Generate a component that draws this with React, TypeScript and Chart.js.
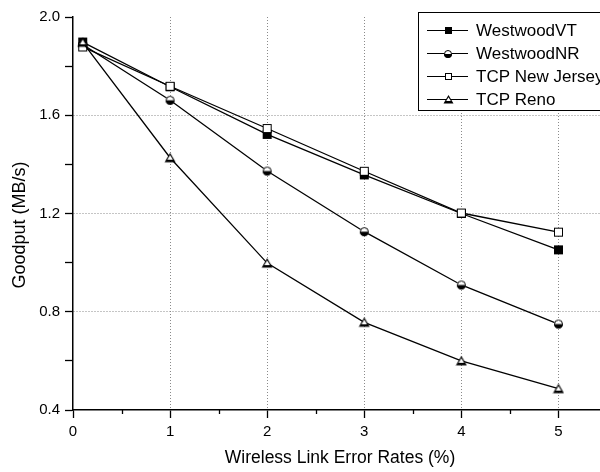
import { useEffect, useRef } from 'react';
import { Chart, registerables } from 'chart.js';

Chart.register(...registerables);

// ---- data ----
const errorRates = [0.1, 1, 2, 3, 4, 5];
const westwoodVT = [1.898, 1.716, 1.522, 1.357, 1.2, 1.052];
const westwoodNR = [1.888, 1.661, 1.373, 1.126, 0.909, 0.75];
const tcpNewJersey = [1.878, 1.718, 1.546, 1.372, 1.202, 1.124];
const tcpReno = [1.897, 1.427, 0.998, 0.757, 0.6, 0.487];
const seriesNames = ['WestwoodVT', 'WestwoodNR', 'TCP New Jersey', 'TCP Reno'];
const xTickLabels = ['0', '1', '2', '3', '4', '5'];
const yTickLabels = ['0.4', '0.8', '1.2', '1.6', '2.0'];
const xTitle = 'Wireless Link Error Rates (%)';
const yTitle = 'Goodput (MB/s)';

const FONT = '"Liberation Sans", Arial, sans-serif';
const GRID = '#8a8a8a';

function makeMarker(kind: string, s: number): HTMLCanvasElement {
  const c = document.createElement('canvas');
  const w = s + 2;
  c.width = w;
  c.height = w;
  const g = c.getContext('2d')!;
  g.lineWidth = 1;
  g.strokeStyle = '#000';
  const h = w / 2;
  if (kind === 'filledSquare') {
    g.fillStyle = '#000';
    g.fillRect(1, 1, s, s);
  } else if (kind === 'openSquare') {
    g.fillStyle = '#fff';
    g.fillRect(1, 1, s, s);
    g.strokeRect(1.5, 1.5, s - 1, s - 1);
  } else if (kind === 'halfCircle') {
    const r = s / 2;
    g.fillStyle = '#fff';
    g.beginPath();
    g.arc(h, h, r, 0, 2 * Math.PI);
    g.fill();
    g.fillStyle = '#000';
    g.beginPath();
    g.arc(h, h, r, 0, Math.PI);
    g.closePath();
    g.fill();
    g.beginPath();
    g.arc(h, h, r - 0.5, 0, 2 * Math.PI);
    g.stroke();
  } else {
    // triangle: black outline with heavy base, white interior
    g.fillStyle = '#000';
    g.beginPath();
    g.moveTo(h, 1);
    g.lineTo(w - 0.5, w - 1.5);
    g.lineTo(0.5, w - 1.5);
    g.closePath();
    g.fill();
    g.fillStyle = '#fff';
    g.beginPath();
    g.moveTo(h, 3.2);
    g.lineTo(w - 3.2, w - 4);
    g.lineTo(3.2, w - 4);
    g.closePath();
    g.fill();
  }
  return c;
}

const isMajorY = (v: number) => Math.abs(v * 10 - Math.round(v / 0.4) * 4) < 0.01;
const isInt = (v: number) => Math.abs(v - Math.round(v)) < 0.001;

export default function App() {
  const ref = useRef<HTMLCanvasElement>(null);

  useEffect(() => {
    if (!ref.current) return;
    const kinds = ['filledSquare', 'halfCircle', 'openSquare', 'triangle'];
    const plotMarkers = [
      makeMarker('filledSquare', 9),
      makeMarker('halfCircle', 9),
      makeMarker('openSquare', 9),
      makeMarker('triangle', 10),
    ];
    const legendMarkers = [
      makeMarker('filledSquare', 7),
      makeMarker('halfCircle', 8),
      makeMarker('openSquare', 7),
      makeMarker('triangle', 9),
    ];
    const values = [westwoodVT, westwoodNR, tcpNewJersey, tcpReno];
    const orders = [2, 3, 1, 0];

    const extras = {
      id: 'extras',
      afterDraw(chart: any) {
        const ctx = chart.ctx as CanvasRenderingContext2D;
        const xs = chart.scales.x;
        const area = chart.chartArea;
        ctx.save();
        // minor x ticks
        ctx.strokeStyle = '#000';
        ctx.lineWidth = 1.3;
        for (let v = 0.5; v <= 5.5; v += 1) {
          const px = Math.round(xs.getPixelForValue(v)) + 0.5;
          ctx.beginPath();
          ctx.moveTo(px, area.bottom);
          ctx.lineTo(px, area.bottom + 4);
          ctx.stroke();
        }
        // y title
        ctx.fillStyle = '#000';
        ctx.font = `18px ${FONT}`;
        ctx.textAlign = 'center';
        ctx.textBaseline = 'middle';
        ctx.translate(20, 225);
        ctx.rotate(-Math.PI / 2);
        ctx.fillText(yTitle, 0, 0);
        ctx.setTransform(1, 0, 0, 1, 0, 0);
        // legend box
        ctx.fillStyle = '#fff';
        ctx.fillRect(418.5, 12.5, 300, 98);
        ctx.strokeStyle = '#000';
        ctx.lineWidth = 1;
        ctx.strokeRect(418.5, 12.5, 300, 98);
        ctx.font = `17px ${FONT}`;
        ctx.textAlign = 'left';
        ctx.textBaseline = 'middle';
        seriesNames.forEach((name, i) => {
          const cy = 30 + i * 23;
          ctx.strokeStyle = '#000';
          ctx.lineWidth = 1.2;
          ctx.beginPath();
          ctx.moveTo(427, cy + 0.5);
          ctx.lineTo(468, cy + 0.5);
          ctx.stroke();
          const m = legendMarkers[i];
          ctx.drawImage(m, Math.round(448 - m.width / 2), Math.round(cy + 0.5 - m.height / 2));
          ctx.fillStyle = '#000';
          ctx.fillText(name, 476, cy + 1);
        });
        ctx.restore();
      },
    };

    const chart = new Chart(ref.current, {
      type: 'line',
      data: {
        datasets: seriesNames.map((name, i) => ({
          label: name,
          data: errorRates.map((x, j) => ({ x, y: values[i][j] })),
          borderColor: '#000',
          borderWidth: 1.3,
          backgroundColor: '#000',
          pointStyle: plotMarkers[i] as any,
          pointRadius: 5,
          pointHoverRadius: 5,
          fill: false,
          tension: 0,
          order: orders[i],
        })),
      },
      options: {
        animation: false,
        responsive: false,
        events: [],
        layout: { padding: { top: 17, right: 13, left: 0, bottom: 0 } },
        plugins: {
          legend: { display: false },
          tooltip: { enabled: false },
          title: { display: false },
        },
        scales: {
          x: {
            type: 'linear',
            min: 0,
            max: 5.5,
            afterFit: (s: any) => {
              s.height = 62;
            },
            ticks: {
              stepSize: 0.5,
              autoSkip: false,
              maxRotation: 0,
              padding: 5,
              color: '#000',
              font: { family: FONT, size: 15 },
              callback: (v: any) => {
                const n = Number(v);
                return isInt(n) ? xTickLabels[Math.round(n)] ?? '' : '';
              },
            },
            grid: {
              drawTicks: true,
              tickLength: 8,
              tickWidth: 1.3,
              lineWidth: 1,
              color: (c: any) => {
                const v = c.tick?.value;
                return v !== undefined && isInt(v) && v > 0 && v <= 5 ? GRID : 'rgba(0,0,0,0)';
              },
              tickColor: (c: any) => {
                const v = c.tick?.value;
                return v !== undefined && isInt(v) ? '#000' : 'rgba(0,0,0,0)';
              },
            },
            border: { display: true, color: '#000', width: 1.5, dash: [1, 2] },
            title: {
              display: true,
              text: xTitle,
              color: '#000',
              font: { family: FONT, size: 17.5 },
              padding: { top: 0, bottom: 3 },
            },
          },
          y: {
            type: 'linear',
            min: 0.4,
            max: 2.0,
            afterFit: (s: any) => {
              s.width = 73;
            },
            ticks: {
              stepSize: 0.2,
              autoSkip: false,
              padding: 5,
              color: '#000',
              font: { family: FONT, size: 15 },
              callback: (v: any) => {
                const n = Number(v);
                if (!isMajorY(n)) return '';
                const idx = Math.round((n - 0.4) / 0.4);
                return yTickLabels[idx] ?? '';
              },
            },
            grid: {
              drawTicks: true,
              tickLength: 8,
              tickWidth: 1.3,
              lineWidth: 1,
              color: (c: any) => {
                const v = c.tick?.value;
                return v !== undefined && isMajorY(v) && v > 0.5 && v < 1.9 ? GRID : 'rgba(0,0,0,0)';
              },
              tickColor: '#000',
            },
            border: { display: true, color: '#000', width: 1.5, dash: [1, 2] },
          },
        },
      },
      plugins: [extras],
    } as any);
    return () => chart.destroy();
  }, []);

  return (
    <div
      style={{
        position: 'absolute',
        left: 0,
        top: 0,
        width: 600,
        height: 472,
        overflow: 'hidden',
        background: '#fff',
      }}
    >
      <canvas ref={ref} width={620} height={472} style={{ display: 'block' }} />
    </div>
  );
}
